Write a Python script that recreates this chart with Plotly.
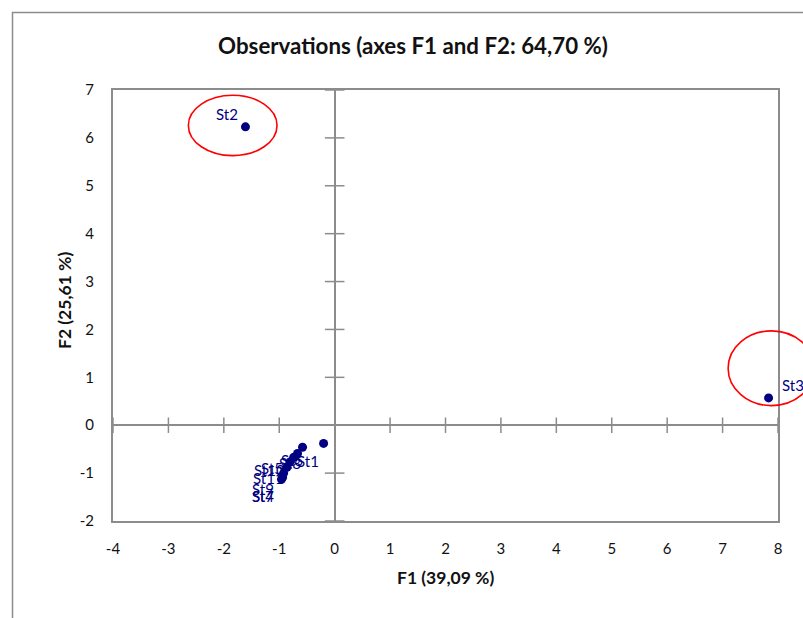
import plotly.graph_objects as go

# Observation scores on the first two factorial axes
stations = ["St1", "St2", "St3", "St4", "St5", "St6", "St7", "St8", "St9", "St10", "St11"]
f1_scores = [-0.20, -1.61, 7.83, -0.96, -0.74, -0.58, -0.94, -0.67, -0.92, -0.81, -0.86]
f2_scores = [-0.38, 6.23, 0.57, -1.13, -0.67, -0.46, -1.09, -0.59, -1.00, -0.77, -0.88]

# Label offsets (pixels) relative to each point
label_dx = [-16, -18, 24, -18, -22, -11, -20, -8, -21, -20, -19]
label_dy = [-18, 13, 13, -17, -11, -13, -19, -10, -16, -8, -11]

x_ticks = list(range(-4, 9))
y_ticks = list(range(-2, 8))
x_range = [-4, 8]
y_range = [-2, 7]

# Highlighted observations (circled): station name, half-width and half-height in axis units
highlights = [("St2", 0.80, 0.63), ("St3", 0.78, 0.78)]
highlight_centers = {"St2": (-1.84, 6.26), "St3": (7.88, 1.19)}

W, H = 803, 618
M = dict(l=113, r=25, t=90, b=97)
PW = W - M["l"] - M["r"]
PH = H - M["t"] - M["b"]

AXIS_GREY = "#8c8c8c"
NAVY = "#000080"
FONT = "Lato, Carlito, sans-serif"


def px_to_paper_x(px):
    return (px - M["l"]) / PW


def px_to_paper_y(py):
    return (H - M["b"] - py) / PH


def data_to_paper_x(v):
    return (v - x_range[0]) / (x_range[1] - x_range[0])


def data_to_paper_y(v):
    return (v - y_range[0]) / (y_range[1] - y_range[0])


def tick_text(values):
    # plain hyphen for negatives
    return [str(v) for v in values]


fig = go.Figure()

# Tick marks crossing the zero axes
fig.add_trace(go.Scatter(
    x=[t for t in x_ticks if t != 0], y=[0] * (len(x_ticks) - 1),
    mode="markers", hoverinfo="skip", showlegend=False,
    marker=dict(symbol="line-ns", size=11, line=dict(width=1.5, color=AXIS_GREY)),
    cliponaxis=False,
))
fig.add_trace(go.Scatter(
    x=[0] * (len(y_ticks) - 1), y=[t for t in y_ticks if t != 0],
    mode="markers", hoverinfo="skip", showlegend=False,
    marker=dict(symbol="line-ew", size=14, line=dict(width=1.5, color=AXIS_GREY)),
    cliponaxis=False,
))

# Observations
fig.add_trace(go.Scatter(
    x=f1_scores, y=f2_scores, mode="markers", text=stations,
    marker=dict(color=NAVY, size=9, line=dict(width=0)),
    showlegend=False, cliponaxis=False,
))

annotations = []
for name, x, y, dx, dy in zip(stations, f1_scores, f2_scores, label_dx, label_dy):
    annotations.append(dict(
        x=x, y=y, xref="x", yref="y", text=name, showarrow=False,
        xshift=dx, yshift=dy, xanchor="center", yanchor="middle",
        font=dict(family=FONT, size=15, color=NAVY),
    ))

# Axis titles
annotations.append(dict(
    x=px_to_paper_x(445.5), y=px_to_paper_y(577), xref="paper", yref="paper",
    text="<b>F1 (39,09 %)</b>", showarrow=False, xanchor="center", yanchor="middle",
    font=dict(family=FONT, size=17.5, color="#111"),
))
annotations.append(dict(
    x=px_to_paper_x(64), y=px_to_paper_y(301), xref="paper", yref="paper",
    text="<b>F2 (25,61 %)</b>", showarrow=False, textangle=-90,
    xanchor="center", yanchor="middle",
    font=dict(family=FONT, size=17.5, color="#111"),
))

shapes = []
# Outer chart frame
shapes.append(dict(
    type="rect", xref="paper", yref="paper",
    x0=px_to_paper_x(12.5), x1=px_to_paper_x(830),
    y0=px_to_paper_y(640), y1=px_to_paper_y(12.5),
    line=dict(color=AXIS_GREY, width=1.5), fillcolor="rgba(0,0,0,0)", layer="below",
))
# Red circles around the outlying stations
for name, hw, hh in highlights:
    cx, cy = highlight_centers[name]
    shapes.append(dict(
        type="circle", xref="paper", yref="paper",
        x0=data_to_paper_x(cx - hw), x1=data_to_paper_x(cx + hw),
        y0=data_to_paper_y(cy - hh), y1=data_to_paper_y(cy + hh),
        line=dict(color="#ff0000", width=1.6), fillcolor="rgba(0,0,0,0)",
    ))

axis_common = dict(
    showgrid=False, zeroline=True, zerolinecolor=AXIS_GREY, zerolinewidth=2,
    showline=True, linecolor=AXIS_GREY, linewidth=2, mirror=True,
    ticks="", tickfont=dict(family=FONT, size=15, color="#111"),
)

fig.update_layout(
    width=W, height=H, margin=M,
    paper_bgcolor="white", plot_bgcolor="white",
    title=dict(
        text="<b>Observations (axes F1 and F2: 64,70 %)</b>",
        x=413 / W, xref="container", xanchor="center",
        y=1 - 46 / H, yref="container", yanchor="middle",
        font=dict(family=FONT, size=22.3, color="#111"),
    ),
    xaxis=dict(range=x_range, tickvals=x_ticks, ticktext=tick_text(x_ticks),
               ticklabelstandoff=13, **axis_common),
    yaxis=dict(range=y_range, tickvals=y_ticks, ticktext=tick_text(y_ticks),
               ticklabelstandoff=14, **axis_common),
    annotations=annotations,
    shapes=shapes,
)

fig.write_html("out.html")
